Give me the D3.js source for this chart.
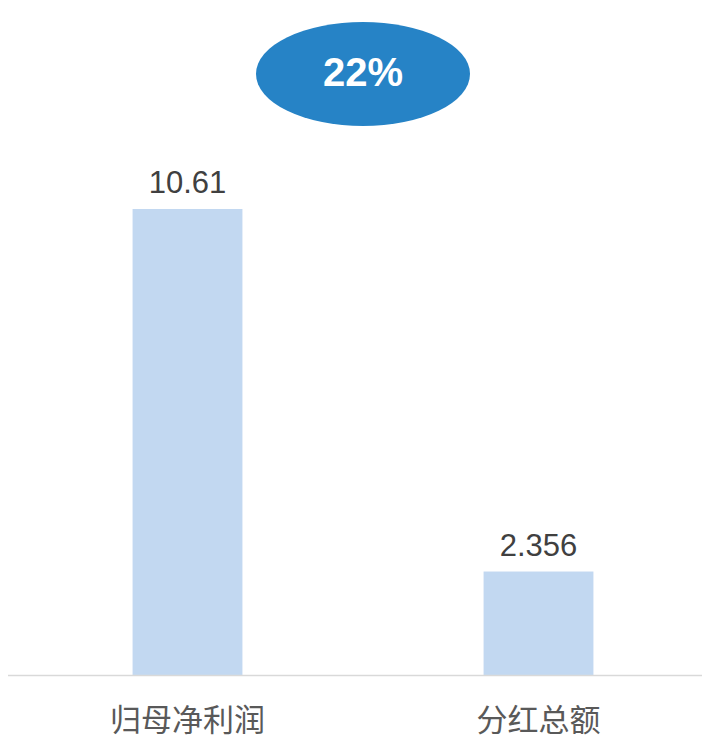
<!DOCTYPE html>
<html lang="zh">
<head>
  <meta charset="UTF-8">
  <title>归母净利润与分红总额</title>
  <script src="https://d3js.org/d3.v7.min.js"></script>
  <style>
    html, body { margin: 0; padding: 0; background: #fff; }
  </style>
</head>
<body>
  <div id="chart"></div>
  <script>
    // chart data
    const categories = ['归母净利润', '分红总额'];
    const values = [10.61, 2.356];
    const valueLabels = ['10.61', '2.356'];
    const ratioLabel = '22%';

    const width = 702, height = 741;
    const baseY = 675;

    const svg = d3.select('#chart')
      .append('svg')
      .attr('width', width)
      .attr('height', height);

    const x = d3.scaleBand()
      .domain(categories)
      .range([12, 714]);

    const y = d3.scaleLinear()
      .domain([0, 12])
      .range([baseY, baseY - 12 * 43.92]);

    const barW = x.bandwidth() * 0.313;

    // bars
    svg.selectAll('rect.bar')
      .data(categories)
      .enter().append('rect')
      .attr('class', 'bar')
      .attr('x', (d) => x(d) + x.bandwidth() / 2 - barW / 2)
      .attr('y', (d, i) => y(values[i]))
      .attr('width', barW)
      .attr('height', (d, i) => baseY - y(values[i]))
      .attr('fill', '#C2D8F1');

    // axis line
    svg.append('line')
      .attr('x1', 8)
      .attr('x2', width)
      .attr('y1', baseY + 0.5)
      .attr('y2', baseY + 0.5)
      .attr('stroke', '#D9D9D9')
      .attr('stroke-width', 1.5);

    // value labels
    svg.selectAll('text.val')
      .data(categories)
      .enter().append('text')
      .attr('class', 'val')
      .attr('x', (d) => x(d) + x.bandwidth() / 2)
      .attr('y', (d, i) => y(values[i]) - 16)
      .attr('text-anchor', 'middle')
      .attr('font-family', '"Liberation Sans", Arial, sans-serif')
      .attr('font-size', '31px')
      .attr('fill', '#404040')
      .text((d, i) => valueLabels[i]);

    // category labels
    svg.selectAll('text.cat')
      .data(categories)
      .enter().append('text')
      .attr('class', 'cat')
      .attr('x', (d) => x(d) + x.bandwidth() / 2)
      .attr('y', 731)
      .attr('text-anchor', 'middle')
      .attr('font-family', '"Noto Sans CJK SC", sans-serif')
      .attr('font-size', '31px')
      .attr('fill', '#595959')
      .text((d) => d);

    // ratio bubble
    svg.append('ellipse')
      .attr('cx', 363)
      .attr('cy', 74)
      .attr('rx', 107)
      .attr('ry', 52)
      .attr('fill', '#2683C6');

    svg.append('text')
      .attr('x', 363)
      .attr('y', 86)
      .attr('text-anchor', 'middle')
      .attr('font-family', '"Liberation Sans", Arial, sans-serif')
      .attr('font-weight', 'bold')
      .attr('font-size', '40px')
      .attr('fill', '#fff')
      .text(ratioLabel);
  </script>
</body>
</html>
